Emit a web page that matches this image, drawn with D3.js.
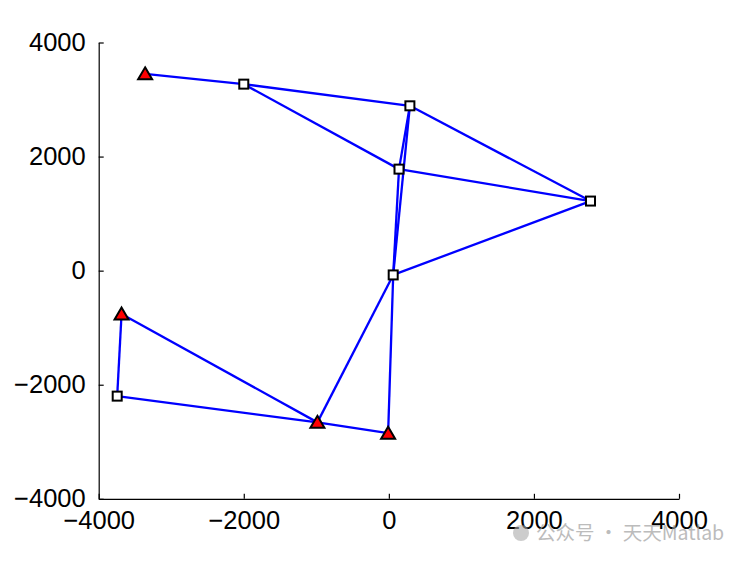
<!DOCTYPE html>
<html>
<head>
<meta charset="utf-8">
<script src="https://cdn.jsdelivr.net/npm/d3@7"></script>
<style>
  html, body { margin: 0; padding: 0; background: #fff; }
  svg { display: block; }
  text { font-family: "Liberation Sans", Arial, sans-serif; }
</style>
</head>
<body>
<svg id="chart" width="750" height="562"></svg>
<script>
// Node data
const nodeNames = ["T1","S1","S2","S3","S4","S5","S6","T2","T3","T4"];
const nodeX = [-3360, -2000, 290, 140, 2780, 60, -3745, -3685, -985, -10];
const nodeY = [3450, 3270, 2890, 1780, 1220, -75, -2200, -760, -2660, -2850];
const nodeType = ["tri","sq","sq","sq","sq","sq","sq","tri","tri","tri"];
// Edges (node index pairs)
const edgeFrom = [0, 1, 1, 2, 2, 2, 3, 3, 4, 5, 5, 6, 6, 7, 8];
const edgeTo   = [1, 2, 3, 3, 4, 5, 4, 5, 5, 8, 9, 7, 8, 8, 9];
// Ticks
const xTicks = [-4000, -2000, 0, 2000, 4000];
const yTicks = [-4000, -2000, 0, 2000, 4000];

const svg = d3.select("#chart");
const x = d3.scaleLinear().domain([-4000, 4000]).range([98.7, 679]);
const y = d3.scaleLinear().domain([-4000, 4000]).range([498.8, 42.5]);

// Axes (MATLAB style: ticks inward, box off)
const xAxis = d3.axisBottom(x).tickValues(xTicks).tickSizeInner(-5).tickSizeOuter(0).tickPadding(12).tickFormat(d3.format("d"));
const yAxis = d3.axisLeft(y).tickValues(yTicks).tickSizeInner(-5).tickSizeOuter(0).tickPadding(13).tickFormat(d3.format("d"));

const gx = svg.append("g").attr("transform", `translate(0,${y(-4000)})`).call(xAxis);
const gy = svg.append("g").attr("transform", `translate(${x(-4000)},0)`).call(yAxis);
[gx, gy].forEach(g => {
  g.select(".domain").attr("stroke", "#000").attr("stroke-width", 1.2);
  g.selectAll(".tick line").attr("stroke", "#000").attr("stroke-width", 1.2);
  g.selectAll(".tick text").attr("fill", "#000").style("font-size", "25.5px")
    .style("font-family", '"Liberation Sans", Arial, sans-serif');
});
gx.selectAll(".tick text").attr("dy", "0.71em");

// Edges
const edges = edgeFrom.map((f, i) => [f, edgeTo[i]]);
svg.append("g").selectAll("line").data(edges).join("line")
  .attr("x1", d => x(nodeX[d[0]])).attr("y1", d => y(nodeY[d[0]]))
  .attr("x2", d => x(nodeX[d[1]])).attr("y2", d => y(nodeY[d[1]]))
  .attr("stroke", "#0000ff").attr("stroke-width", 2.3);

// Nodes
const nodes = nodeNames.map((n, i) => ({ n, x: nodeX[i], y: nodeY[i], t: nodeType[i] }));
const gN = svg.append("g");
gN.selectAll("rect").data(nodes.filter(d => d.t === "sq")).join("rect")
  .attr("x", d => x(d.x) - 4.5).attr("y", d => y(d.y) - 4.5)
  .attr("width", 9).attr("height", 9)
  .attr("fill", "#fff").attr("stroke", "#000").attr("stroke-width", 2);
gN.selectAll("path").data(nodes.filter(d => d.t === "tri")).join("path")
  .attr("d", d => {
    const cx = x(d.x), cy = y(d.y), h = 6.5, w = 7;
    return `M${cx},${cy - h}L${cx + w},${cy + h - 1}L${cx - w},${cy + h - 1}Z`;
  })
  .attr("fill", "#ff0000").attr("stroke", "#000").attr("stroke-width", 2).attr("stroke-linejoin", "miter");

// Watermark
svg.append("circle").attr("cx", 521).attr("cy", 533).attr("r", 8).attr("fill", "#aaa").attr("opacity", 0.6);
svg.append("text").attr("x", 536).attr("y", 540)
  .attr("fill", "#a0a0a0").attr("opacity", 0.7)
  .style("font-size", "19.5px").style("font-family", '"Noto Sans CJK SC", sans-serif')
  .text("公众号 · 天天Matlab");
</script>
</body>
</html>
